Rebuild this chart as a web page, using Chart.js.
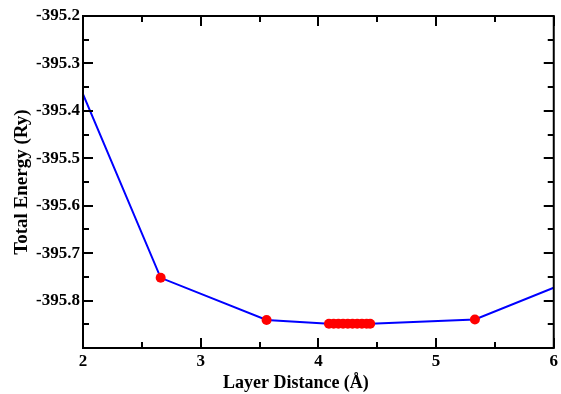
<!DOCTYPE html>
<html>
<head>
<meta charset="utf-8">
<script src="https://cdn.jsdelivr.net/npm/chart.js@4"></script>
<style>
  html, body { margin: 0; padding: 0; background: #fff; }
  #wrap { width: 561px; height: 394px; }
</style>
</head>
<body>
<div id="wrap"><canvas id="energyChart"></canvas></div>
<script>
// layer distance (Å) and total energy (Ry)
const layerDistance = [2.0, 2.66, 3.56, 4.09, 4.13, 4.17, 4.21, 4.25, 4.29, 4.33, 4.37, 4.41, 4.44, 5.33, 6.0];
const totalEnergy = [-395.365, -395.752, -395.841, -395.849, -395.849, -395.849, -395.849, -395.849,
                     -395.849, -395.849, -395.849, -395.849, -395.849, -395.840, -395.773];
// first and last entries are where the curve leaves the frame, no marker there
const markerSize = [0, 5, 5, 5, 5, 5, 5, 5, 5, 5, 5, 5, 5, 5, 0];

const xTicks = [2, 3, 4, 5, 6];
const yTicks = [-395.8, -395.7, -395.6, -395.5, -395.4, -395.3, -395.2];

const fontFace = '"Liberation Serif", "Times New Roman", serif';

// frame on all four sides with inward major/minor ticks
const frameTicks = {
    id: 'frameTicks',
    afterDraw(chart) {
        const ctx = chart.ctx;
        const a = chart.chartArea;
        const xs = chart.scales.x;
        const ys = chart.scales.y;
        ctx.save();
        ctx.strokeStyle = '#000';
        ctx.lineWidth = 2;
        ctx.strokeRect(a.left, a.top, a.right - a.left, a.bottom - a.top);
        ctx.beginPath();
        for (let v = 2; v <= 6.001; v += 0.5) {
            const px = Math.round(xs.getPixelForValue(v));
            const len = Math.abs(v - Math.round(v)) < 0.01 ? 10 : 6;
            ctx.moveTo(px, a.bottom); ctx.lineTo(px, a.bottom - len);
            ctx.moveTo(px, a.top); ctx.lineTo(px, a.top + len);
        }
        for (let i = 0; i <= 14; i++) {
            const v = -395.9 + i * 0.05;
            const py = Math.round(ys.getPixelForValue(v));
            const len = i % 2 === 0 ? 10 : 6;
            ctx.moveTo(a.left, py); ctx.lineTo(a.left + len, py);
            ctx.moveTo(a.right, py); ctx.lineTo(a.right - len, py);
        }
        ctx.stroke();
        ctx.restore();
    }
};

const points = layerDistance.map((x, i) => ({ x: x, y: totalEnergy[i] }));

new Chart(document.getElementById('energyChart'), {
    type: 'line',
    data: {
        datasets: [{
            data: points,
            borderColor: '#0000ff',
            borderWidth: 2,
            backgroundColor: '#ff0000',
            pointBackgroundColor: '#ff0000',
            pointBorderWidth: 0,
            pointRadius: markerSize,
            tension: 0
        }]
    },
    options: {
        responsive: true,
        maintainAspectRatio: false,
        animation: false,
        layout: { padding: { top: 16, right: 6, left: 0, bottom: 0 } },
        plugins: { legend: { display: false }, tooltip: { enabled: false } },
        scales: {
            x: {
                type: 'linear',
                min: 2,
                max: 6,
                grid: { display: false, drawTicks: false },
                border: { display: false },
                afterBuildTicks: (scale) => { scale.ticks = xTicks.map(v => ({ value: v })); },
                afterFit: (scale) => { scale.height = 46; },
                ticks: {
                    padding: 3,
                    color: '#000',
                    font: { family: fontFace, size: 17, weight: 'bold' },
                    maxRotation: 0
                },
                title: {
                    display: true,
                    // trailing spaces pull the centred title a little left, as in the original
                    text: 'Layer Distance (Å)          ',
                    color: '#000',
                    padding: { top: 0, bottom: 0 },
                    font: { family: fontFace, size: 18, weight: 'bold' }
                }
            },
            y: {
                type: 'linear',
                min: -395.9,
                max: -395.2,
                grid: { display: false, drawTicks: false },
                border: { display: false },
                afterBuildTicks: (scale) => { scale.ticks = yTicks.map(v => ({ value: v })); },
                afterFit: (scale) => { scale.width = 83; },
                ticks: {
                    padding: 3,
                    color: '#000',
                    font: { family: fontFace, size: 17, weight: 'bold' },
                    callback: (v) => Number(v).toFixed(1)
                },
                title: {
                    display: true,
                    text: 'Total Energy (Ry)',
                    color: '#000',
                    padding: { top: 11, bottom: 0 },
                    font: { family: fontFace, size: 19, weight: 'bold' }
                }
            }
        }
    },
    plugins: [frameTicks]
});
</script>
</body>
</html>
